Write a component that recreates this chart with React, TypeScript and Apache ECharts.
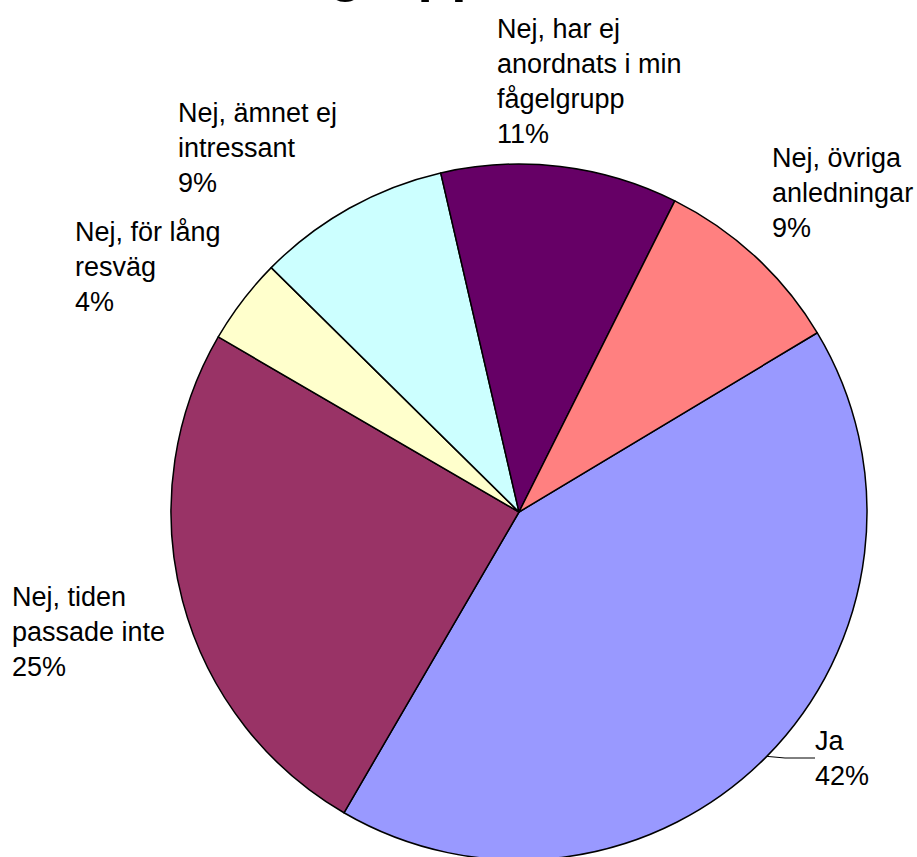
import React, { useEffect, useRef } from "react";
import * as echarts from "echarts";

const titleText = "grupp";
const categories = [
  "Ja",
  "Nej, tiden\npassade inte",
  "Nej, för lång\nresväg",
  "Nej, ämnet ej\nintressant",
  "Nej, har ej\nanordnats i min\nfågelgrupp",
  "Nej, övriga\nanledningar",
];
const values = [42, 25, 4, 9, 11, 9];
const colors = ["#9999FF", "#993366", "#FFFFCC", "#CCFFFF", "#660066", "#FF8080"];
// label anchor (left x, vertical centre y) for each slice
const labelAnchors = [
  [815, 758],
  [12, 632],
  [75, 267],
  [178, 148],
  [497, 81],
  [772, 193],
];

export default function App() {
  const ref = useRef<HTMLDivElement>(null);
  useEffect(() => {
    if (!ref.current) return;
    const chart = echarts.init(ref.current, null, { renderer: "svg" });
    const font = "'Liberation Sans', Arial, sans-serif";
    chart.setOption({
      animation: false,
      backgroundColor: "#ffffff",
      graphic: [
        {
          type: "text",
          left: 329,
          top: -57,
          silent: true,
          style: {
            text: titleText,
            font: `bold 55px ${font}`,
            fill: "#000",
          },
        },
      ],
      series: [
        {
          type: "pie",
          center: [519, 512],
          radius: 348,
          startAngle: 31,
          clockwise: true,
          silent: true,
          percentPrecision: 0,
          avoidLabelOverlap: false,
          itemStyle: { borderColor: "#000", borderWidth: 1.5 },
          emphasis: { disabled: true },
          label: {
            show: true,
            position: "outside",
            formatter: "{b}\n{d}%",
            color: "#000",
            fontFamily: font,
            fontSize: 27,
            lineHeight: 35,
            align: "left",
          },
          labelLine: { show: false },
          labelLayout: (params: any) => {
            const a = labelAnchors[params.dataIndex];
            return { x: a[0], y: a[1], align: "left", verticalAlign: "middle" };
          },
          data: categories.map((name, i) => ({
            name,
            value: values[i],
            itemStyle: { color: colors[i] },
            labelLine:
              i === 0
                ? { show: true, length: 10, length2: 30, lineStyle: { color: "#000", width: 1 } }
                : { show: false },
          })),
        },
      ],
    });
    return () => chart.dispose();
  }, []);
  return (
    <div
      ref={ref}
      style={{ position: "absolute", left: 0, top: 0, width: 917, height: 857 }}
    />
  );
}
